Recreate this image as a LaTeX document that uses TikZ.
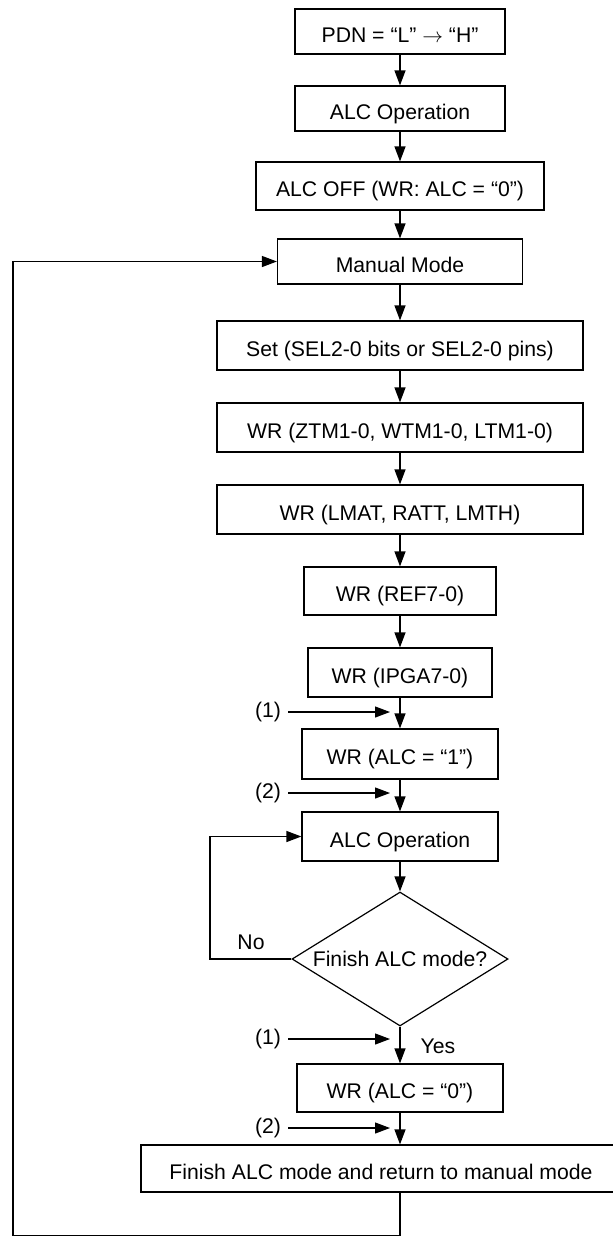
\documentclass[tikz,border=0pt]{standalone}
\usepackage{fontspec}
\setmainfont{Liberation Sans}
\usetikzlibrary{arrows.meta,shapes.geometric}

\tikzset{
	flowbox/.style={draw, rectangle, inner sep=0pt, text height=21.5pt, text depth=0pt},
	decide/.style={draw, diamond, inner sep=0pt, aspect=1.61, minimum width=216pt, minimum height=134pt, text height=15pt, text depth=0pt},
	flow/.style={-{Triangle[length=15pt,width=11pt]}},
	tag/.style={inner sep=0pt, outer sep=7pt},
}

\begin{document}
\begin{tikzpicture}[x=1pt, y=-1pt, line width=1.2pt, font=\fontsize{21.2pt}{25pt}\selectfont]
			%%%%% START %%%%%
			\clip (0,0) rectangle (613,1237);
			
			\node[flowbox, minimum width=210pt, minimum height=45pt] (pdn) at (400,31.5) {PDN = “L” $\rightarrow$ “H”};
			\node[flowbox, minimum width=210pt, minimum height=45pt] (alcon) at (400,108.5) {ALC Operation};
			\node[flowbox, minimum width=288pt, minimum height=48pt] (alcoff) at (400,186) {ALC OFF (WR: ALC = “0”)};
			\node[flowbox, minimum width=245pt, minimum height=45pt] (manual) at (400,261.5) {Manual Mode};
			
			\node[flowbox, minimum width=366pt, minimum height=49pt] (sel) at (400,345.5) {Set (SEL2-0 bits or SEL2-0 pins)};
			\node[flowbox, minimum width=366pt, minimum height=49pt] (tm) at (400,427.5) {WR (ZTM1-0, WTM1-0, LTM1-0)};
			\node[flowbox, minimum width=366pt, minimum height=49pt] (lmat) at (400,509.5) {WR (LMAT, RATT, LMTH)};
			\node[flowbox, minimum width=192pt, minimum height=48pt] (ref) at (400,591) {WR (REF7-0)};
			\node[flowbox, minimum width=184pt, minimum height=49pt] (ipga) at (400,672.5) {WR (IPGA7-0)};
			\node[flowbox, minimum width=196pt, minimum height=50pt] (alcset) at (400,754) {WR (ALC = “1”)};
			\node[flowbox, minimum width=196pt, minimum height=49pt] (alcrun) at (400,836.5) {ALC Operation};
			
			\node[decide] (finq) at (400,959) {Finish ALC mode?};
			
			\node[flowbox, minimum width=206pt, minimum height=48pt] (alcclr) at (400,1088) {WR (ALC = “0”)};
			\node[flowbox, minimum width=480pt, minimum height=47pt] (finish) at (381,1168.5) {Finish ALC mode and return to manual mode};
			
			\draw[flow] (pdn) -- (alcon);
			\draw[flow] (alcon) -- (alcoff);
			\draw[flow] (alcoff) -- (manual);
			\draw[flow] (manual) -- (sel);
			\draw[flow] (sel) -- (tm);
			\draw[flow] (tm) -- (lmat);
			\draw[flow] (lmat) -- (ref);
			\draw[flow] (ref) -- (ipga);
			\draw[flow] (ipga) -- (alcset);
			\draw[flow] (alcset) -- (alcrun);
			\draw[flow] (alcrun) -- (finq);
			\draw[flow] (finq) -- (alcclr);
			\draw[flow] (alcclr) -- (alcclr |- finish.north);
			
			% entry points (1) and (2)
			\node[tag, anchor=east] (in1top) at (288,712) {(1)};
			\coordinate (tip1top) at (390,712);
			\draw[flow] (in1top) -- (tip1top);
			\node[tag, anchor=east] (in2top) at (288,793) {(2)};
			\coordinate (tip2top) at (390,793);
			\draw[flow] (in2top) -- (tip2top);
			\node[tag, anchor=east] (in1bot) at (288,1039) {(1)};
			\coordinate (tip1bot) at (390,1039);
			\draw[flow] (in1bot) -- (tip1bot);
			\node[tag, anchor=east] (in2bot) at (288,1128) {(2)};
			\coordinate (tip2bot) at (390,1128);
			\draw[flow] (in2bot) -- (tip2bot);
			
			\node[anchor=base, inner sep=0pt] (nolbl) at (251,949) {No};
			\node[anchor=base, inner sep=0pt] (yeslbl) at (438,1053) {Yes};
			
			% loops back
			\coordinate (noturn) at (210,959);
			\draw[flow] (finq.west) -- (noturn) |- (alcrun.west);
			
			\coordinate (backbot) at (400,1235.8);
			\coordinate (backleft) at (13,1235.8);
			\draw[flow] (finish.south -| backbot) -- (backbot) -- (backleft) |- (manual.west);
			
			%%%%% END %%%%%
\end{tikzpicture}
\end{document}
